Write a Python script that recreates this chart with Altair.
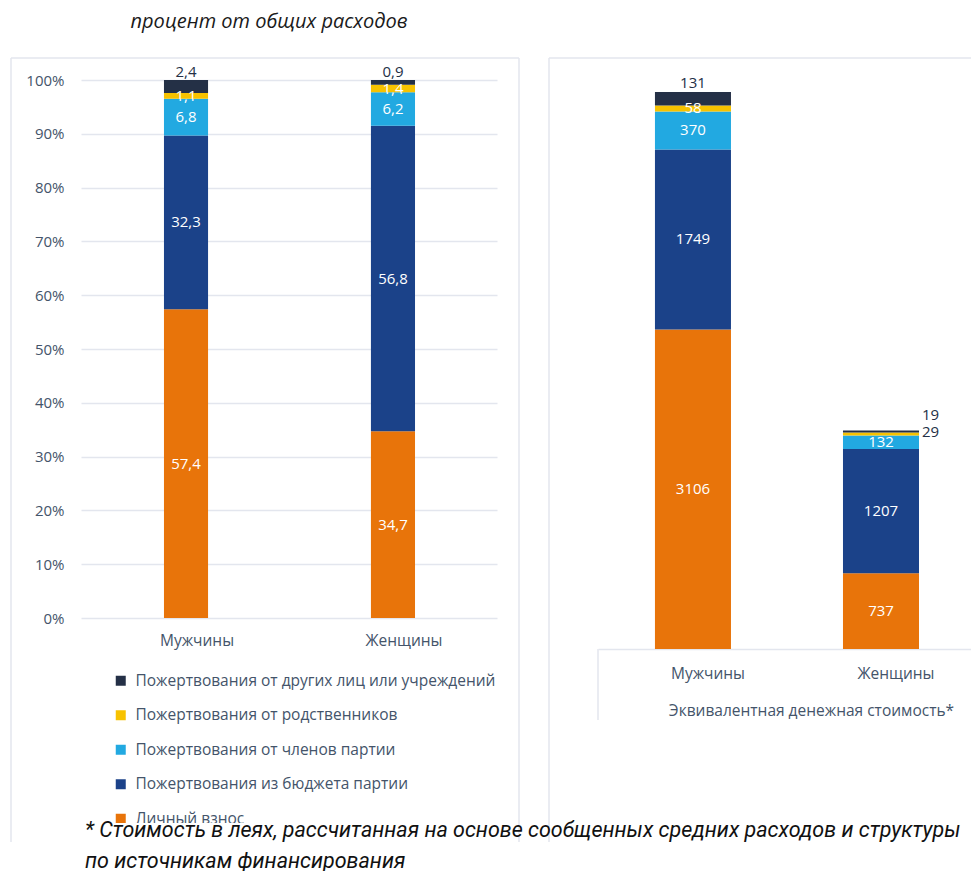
import altair as alt
import pandas as pd

# ---------------- data ----------------
categories = ['Мужчины', 'Женщины']
series = [
    'Личный взнос',
    'Пожертвования из бюджета партии',
    'Пожертвования от членов партии',
    'Пожертвования от родственников',
    'Пожертвования от других лиц или учреждений',
]
series_colors = ['#E8740A', '#1B4289', '#22A9E1', '#F7C200', '#243046']

pct_men = [57.4, 32.3, 6.8, 1.1, 2.4]
pct_women = [34.7, 56.8, 6.2, 1.4, 0.9]
lei_men = [3106, 1749, 370, 58, 131]
lei_women = [737, 1207, 132, 29, 19]
pct_ticks = [0, 10, 20, 30, 40, 50, 60, 70, 80, 90, 100]

title_text = 'процент от общих расходов'
right_axis_title = 'Эквивалентная денежная стоимость*'
footnote_1 = '* Стоимость в леях, рассчитанная на основе сообщенных средних расходов и структуры'
footnote_2 = 'по источникам финансирования'

rows = []
for ci, c in enumerate(categories):
    pv = [pct_men, pct_women][ci]
    lv = [lei_men, lei_women][ci]
    for si, s in enumerate(series):
        rows.append(dict(cat=c, series=s, idx=si, pct=pv[si], lei=lv[si]))
df = pd.DataFrame(rows)
one = pd.DataFrame({'k': [0]})

# ---------------- styles ----------------
TXT = '#44546A'
DARK = '#243046'
GRID = '#E3E6EE'
FRAME = '#E3E6EE'
FONT = 'Open Sans'

legend_order = series[::-1]
color_scale = alt.Scale(domain=legend_order, range=series_colors[::-1])


def rule(x1, x2, y1, y2):
    return alt.Chart(one).mark_rule(color=FRAME, strokeWidth=1.5).encode(
        x=alt.value(x1), x2=alt.value(x2), y=alt.value(y1), y2=alt.value(y2))


# ---------------- left panel (percent) ----------------
x_l = alt.X('cat:N', sort=categories,
            scale=alt.Scale(paddingInner=0.787, paddingOuter=0.3985, align=0.503),
            axis=alt.Axis(title=None, labelAngle=0, domain=False, ticks=False,
                          labelPadding=15, labelFontSize=15.5, labelColor=TXT,
                          labelFont=FONT, grid=False, labelOffset=11))
y_axis_l = alt.Axis(title=None, values=pct_ticks, labelExpr="datum.value + '%'",
                    domain=False, ticks=False, labelPadding=17, labelFontSize=15,
                    labelColor=TXT, labelFont=FONT, gridColor=GRID, gridWidth=1.5)
y_scale_l = alt.Scale(domain=[0, 100])

bars_l = alt.Chart(df).mark_bar().encode(
    x=x_l,
    y=alt.Y('pct:Q', stack='zero', scale=y_scale_l, axis=y_axis_l),
    color=alt.Color('series:N', scale=color_scale,
                    legend=alt.Legend(title=None, orient='none', legendX=32, legendY=593,
                                      symbolType='square', symbolSize=100,
                                      symbolStrokeWidth=0, labelFontSize=15.5,
                                      labelFont=FONT, labelColor=TXT, rowPadding=17.5,
                                      labelOffset=7, labelLimit=600, padding=0)),
    order=alt.Order('idx:Q', sort='ascending'),
)

stacked_l = alt.Chart(df).transform_stack(
    stack='pct', groupby=['cat'], sort=[alt.SortField('idx', order='ascending')],
    as_=['p0', 'p1']
).transform_calculate(
    mid='(datum.p0 + datum.p1) / 2',
    lab="replace(format(datum.pct, '.1f'), '.', ',')",
)
inside_l = stacked_l.transform_filter('datum.idx < 4').mark_text(
    color='white', fontSize=15, font=FONT, baseline='middle').encode(
    x=alt.X('cat:N', sort=categories),
    y=alt.Y('mid:Q', scale=y_scale_l, axis=y_axis_l),
    text='lab:N')
top_l = stacked_l.transform_filter('datum.idx == 4').mark_text(
    color=DARK, fontSize=15, font=FONT, baseline='middle', dy=-8).encode(
    x=alt.X('cat:N', sort=categories),
    y=alt.Y('p1:Q', scale=y_scale_l, axis=y_axis_l),
    text='lab:N')

title_l = alt.Chart(one).mark_text(
    text=title_text, font=FONT, fontSize=20, fontStyle='italic', color='#1A1A1A',
    align='center', baseline='alphabetic').encode(x=alt.value(188), y=alt.value(-52))

left = alt.layer(
    rule(-70, 438, -22, -22), rule(-70, -70, -22, 762), rule(438, 438, -22, 762),
    bars_l, inside_l, top_l, title_l,
).properties(width=416, height=538)

# ---------------- right panel (lei) ----------------
x_r = alt.X('cat:N', sort=categories,
            scale=alt.Scale(paddingInner=0.5957, paddingOuter=0.311, align=0.487),
            axis=alt.Axis(title=right_axis_title, labelAngle=0, domain=True,
                          domainColor=FRAME, domainWidth=1.5, ticks=False,
                          labelPadding=17, labelFontSize=15.5, labelColor=TXT,
                          labelFont=FONT, titleFont=FONT, titleFontSize=15.5,
                          titleFontWeight='normal', titleColor=TXT, titleX=213,
                          titleY=61, titleAlign='center', titleBaseline='middle',
                          grid=False, labelOffset=15))
y_scale_r = alt.Scale(domain=[0, 5530])

bars_r = alt.Chart(df).mark_bar().encode(
    x=x_r,
    y=alt.Y('lei:Q', stack='zero', scale=y_scale_r, axis=None),
    color=alt.Color('series:N', scale=color_scale, legend=None),
    order=alt.Order('idx:Q', sort='ascending'),
)

stacked_r = alt.Chart(df).transform_stack(
    stack='lei', groupby=['cat'], sort=[alt.SortField('idx', order='ascending')],
    as_=['p0', 'p1']
).transform_calculate(
    mid='(datum.p0 + datum.p1) / 2',
    lab="format(datum.lei, 'd')",
)
inside_r = stacked_r.transform_filter(
    "datum.idx < 3 || (datum.idx == 3 && datum.cat == 'Мужчины')").mark_text(
    color='white', fontSize=15, font=FONT, baseline='middle').encode(
    x=alt.X('cat:N', sort=categories),
    y=alt.Y('mid:Q', scale=y_scale_r, axis=None),
    text='lab:N')
top_r = stacked_r.transform_filter(
    "datum.idx == 4 && datum.cat == 'Мужчины'").mark_text(
    color=DARK, fontSize=15, font=FONT, baseline='middle', dy=-9).encode(
    x=alt.X('cat:N', sort=categories),
    y=alt.Y('p1:Q', scale=y_scale_r, axis=None),
    text='lab:N')
side3_r = stacked_r.transform_filter(
    "datum.idx == 3 && datum.cat == 'Женщины'").mark_text(
    color=DARK, fontSize=15, font=FONT, baseline='middle', align='left',
    dx=3, dy=-2).encode(
    x=alt.X('cat:N', sort=categories, bandPosition=1),
    y=alt.Y('mid:Q', scale=y_scale_r, axis=None),
    text='lab:N')
side4_r = stacked_r.transform_filter(
    "datum.idx == 4 && datum.cat == 'Женщины'").mark_text(
    color=DARK, fontSize=15, font=FONT, baseline='middle', align='left',
    dx=3, dy=-16).encode(
    x=alt.X('cat:N', sort=categories, bandPosition=1),
    y=alt.Y('mid:Q', scale=y_scale_r, axis=None),
    text='lab:N')

cover = alt.Chart(one).mark_rect(color='white').encode(
    x=alt.value(-518), x2=alt.value(-83), y=alt.value(743), y2=alt.value(762))
foot1 = alt.Chart(one).mark_text(
    text=footnote_1, font='Roboto', fontSize=21.5, fontStyle='italic', color='#111111',
    align='left', baseline='alphabetic').encode(x=alt.value(-513), y=alt.value(757))
foot2 = alt.Chart(one).mark_text(
    text=footnote_2, font='Roboto', fontSize=21.5, fontStyle='italic', color='#111111',
    align='left', baseline='alphabetic').encode(x=alt.value(-513), y=alt.value(788))

right = alt.layer(
    rule(-49, 381, -22, -22), rule(-49, -49, -22, 762), rule(0, 0, 569, 640),
    bars_r, inside_r, top_r, side3_r, side4_r, cover, foot1, foot2,
).properties(width=381, height=569)

chart = alt.hconcat(left, right, spacing=101, bounds='flush').resolve_scale(
    color='independent', x='independent', y='independent'
).properties(
    autosize=alt.AutoSizeParams(type='none'),
    padding={'left': 73, 'top': 72, 'right': 890, 'bottom': 791},
    background='white',
).configure_view(stroke=None)

chart.save('out.html', embed_options={'renderer': 'svg', 'actions': False})
